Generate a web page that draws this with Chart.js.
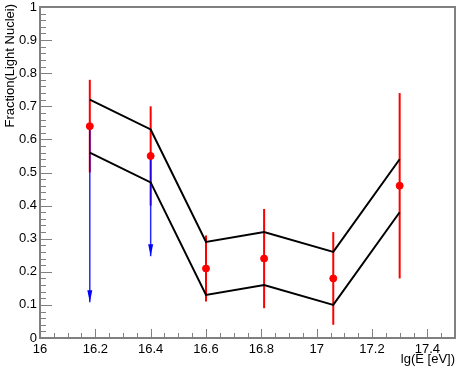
<!DOCTYPE html>
<html>
<head>
<meta charset="utf-8">
<script src="https://cdn.jsdelivr.net/npm/chart.js@4.4.1/dist/chart.umd.min.js"></script>
<style>
  body { margin: 0; background: #fff; }
  #wrap { width: 460px; height: 372px; }
</style>
</head>
<body>
<div id="wrap"><canvas id="fracChart" width="460" height="372"></canvas></div>
<script>
// measured points
const energies = [16.18, 16.40, 16.60, 16.81, 17.06, 17.30];
const fraction = [0.64, 0.55, 0.21, 0.24, 0.18, 0.46];
const errLow = [0.50, 0.40, 0.11, 0.09, 0.04, 0.18];
const errHigh = [0.78, 0.70, 0.31, 0.39, 0.32, 0.74];

// band
const bandUpper = [0.72, 0.63, 0.29, 0.32, 0.26, 0.54];
const bandLower = [0.56, 0.47, 0.13, 0.16, 0.10, 0.38];

// upper-limit arrows (blue)
const limitX = [16.18, 16.40];
const limitFrom = [0.64, 0.55];
const limitTo = [0.108, 0.247];

// axis ticks
const xTicks = [16, 16.2, 16.4, 16.6, 16.8, 17, 17.2, 17.4];
const yTicks = [0, 0.1, 0.2, 0.3, 0.4, 0.5, 0.6, 0.7, 0.8, 0.9, 1];

const toXY = (xs, ys) => xs.map((x, i) => ({ x: x, y: ys[i] }));

const FONT = '"Liberation Sans", Arial, sans-serif';
const GREY = '#808080';

// frame + inward ticks, drawn the ROOT way
function drawFrame(chart) {
    const ctx = chart.ctx;
    const x = chart.scales.x, y = chart.scales.y;
    const L = x.left, R = x.right, T = y.top, B = y.bottom;
    ctx.save();
    ctx.fillStyle = GREY;
    ctx.fillRect(L - 1, T - 1, R - L + 2, 2);
    ctx.fillRect(L - 1, B - 1, R - L + 2, 2);
    ctx.fillRect(L - 1, T - 1, 2, B - T + 2);
    ctx.fillRect(R - 1, T - 1, 2, B - T + 2);
    // y ticks: major 0.1, minor 0.02
    for (let k = 0; k <= 50; k++) {
        const py = Math.round(y.getPixelForValue(k * 0.02));
        const len = k % 5 === 0 ? 12 : 6;
        ctx.fillRect(L, py, len, 1);
    }
    // x ticks: major 0.2, minor 0.05
    for (let k = 0; k <= 30; k++) {
        const px = Math.round(x.getPixelForValue(16 + k * 0.05));
        const len = k % 4 === 0 ? 9 : 5;
        ctx.fillRect(px, B - len, 1, len);
    }
    ctx.restore();
}

const rootStyle = {
    id: 'rootStyle',
    beforeDatasetsDraw(chart) {
        const { ctx } = chart;
        const x = chart.scales.x, y = chart.scales.y;
        ctx.save();
        ctx.lineWidth = 2;
        ctx.strokeStyle = '#ff0000';
        energies.forEach((e, i) => {
            const px = x.getPixelForValue(e);
            ctx.beginPath();
            ctx.moveTo(px, y.getPixelForValue(errLow[i]));
            ctx.lineTo(px, y.getPixelForValue(errHigh[i]));
            ctx.stroke();
        });
        ctx.strokeStyle = 'rgba(0,0,255,0.85)';
        ctx.fillStyle = '#0000ff';
        ctx.lineWidth = 1.5;
        limitX.forEach((e, i) => {
            const px = x.getPixelForValue(e);
            const y0 = y.getPixelForValue(limitFrom[i]);
            const y1 = y.getPixelForValue(limitTo[i]);
            ctx.beginPath();
            ctx.moveTo(px, y0);
            ctx.lineTo(px, y1);
            ctx.stroke();
            ctx.beginPath();
            ctx.moveTo(px, y1);
            ctx.lineTo(px - 2.5, y1 - 12);
            ctx.lineTo(px + 2.5, y1 - 12);
            ctx.closePath();
            ctx.fill();
        });
        ctx.restore();
    },
    afterDraw(chart) {
        const { ctx } = chart;
        drawFrame(chart);
        ctx.save();
        ctx.fillStyle = '#000';
        ctx.font = '13px ' + FONT;
        ctx.textAlign = 'right';
        ctx.textBaseline = 'alphabetic';
        ctx.fillText('lg(E [eV])', chart.scales.x.right, 363);
        ctx.translate(14, 4);
        ctx.rotate(-Math.PI / 2);
        ctx.fillText('Fraction(Light Nuclei)', 0, 0);
        ctx.restore();
    }
};

const lineStyle = {
    showLine: true,
    borderColor: '#000',
    borderWidth: 2,
    pointRadius: 0,
    tension: 0,
    fill: false
};

const initChart = () => {
    const ctx = document.getElementById('fracChart').getContext('2d');
    new Chart(ctx, {
        type: 'scatter',
        data: {
            datasets: [
                Object.assign({ label: 'upper', data: toXY(energies, bandUpper) }, lineStyle),
                Object.assign({ label: 'lower', data: toXY(energies, bandLower) }, lineStyle),
                {
                    label: 'fraction',
                    data: toXY(energies, fraction),
                    pointRadius: 3.5,
                    pointBackgroundColor: '#ff0000',
                    pointBorderColor: '#ff0000',
                    showLine: false
                }
            ]
        },
        options: {
            responsive: false,
            animation: false,
            layout: { padding: { top: 7, right: 4, left: 0, bottom: 0 } },
            plugins: { legend: { display: false }, tooltip: { enabled: false } },
            scales: {
                x: {
                    type: 'linear',
                    min: 16,
                    max: 17.5,
                    grid: { display: false, drawTicks: false },
                    border: { display: false },
                    afterBuildTicks: s => { s.ticks = xTicks.map(v => ({ value: v })); },
                    afterFit: s => { s.height = 34; s.paddingLeft = 0; s.paddingRight = 0; },
                    ticks: {
                        padding: 4,
                        maxRotation: 0,
                        autoSkip: false,
                        color: '#000',
                        font: { family: FONT, size: 13 },
                        callback: v => String(Math.round(v * 10) / 10)
                    }
                },
                y: {
                    min: 0,
                    max: 1,
                    grid: { display: false, drawTicks: false },
                    border: { display: false },
                    afterBuildTicks: s => { s.ticks = yTicks.map(v => ({ value: v })); },
                    afterFit: s => { s.width = 40; s.paddingTop = 0; s.paddingBottom = 0; },
                    ticks: {
                        padding: 3,
                        autoSkip: false,
                        color: '#000',
                        font: { family: FONT, size: 13 },
                        callback: v => String(Math.round(v * 10) / 10)
                    }
                }
            }
        },
        plugins: [rootStyle]
    });
};

document.addEventListener('DOMContentLoaded', initChart);
</script>
</body>
</html>
